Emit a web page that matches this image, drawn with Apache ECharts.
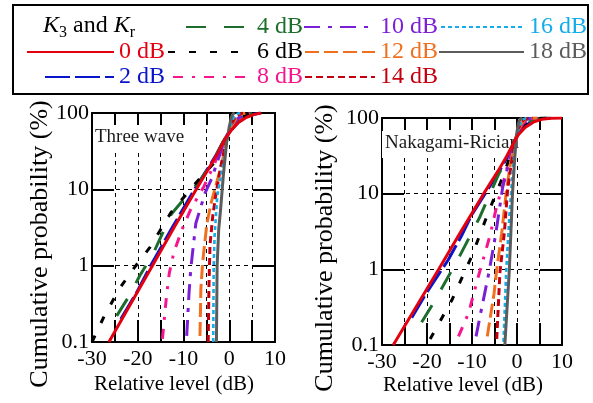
<!DOCTYPE html>
<html><head><meta charset="utf-8">
<script src="https://cdn.jsdelivr.net/npm/echarts@6/dist/echarts.min.js"></script>
<style>html,body{margin:0;padding:0;background:#fff}#c{width:593px;height:403px}</style>
</head><body><div id="c"></div>
<script>
// ---------- data (relative level dB, cumulative probability %) ----------
const levelNames = ['0 dB','2 dB','4 dB','6 dB','8 dB','10 dB','12 dB','14 dB','16 dB','18 dB'];
const xTickLabels = [-30,-20,-10,0,10];
const yTickLabels = [0.1,1,10,100];

// Three wave (left panel)
const tw0  = [[-26.3,0.1],[-21.5,0.32],[-16.8,1],[-12,3.2],[-7.2,10],[-4.2,20],[-2.5,30],[-1.0,45],[0.5,60],[2,75],[3.8,88],[5.5,96],[7,100]];
const tw2  = [[-23.7,0.2],[-20.2,0.45],[-17.2,1],[-12.4,3.2],[-7.6,10],[-4.4,20],[-2.6,30],[-1.0,46],[0.5,61],[2,76],[3.8,89],[5.6,97],[6.8,100]];
const tw4  = [[-24.6,0.22],[-22,0.39],[-19.5,0.75],[-16.6,1.45],[-12.6,4.8],[-8.2,9.8],[-6,14],[-3.5,24],[-1.0,46],[0.5,62],[2,78],[3.5,91],[5,100]];
const tw6  = [[-30,0.1],[-27.3,0.22],[-24,0.5],[-21,0.9],[-17.3,1.75],[-12.8,4.9],[-7.7,11.4],[-3.1,23],[-1.0,46],[0.5,63],[2,80],[3.5,93],[4.8,100]];
const tw8  = [[-14.6,0.11],[-13.7,0.41],[-13.1,0.8],[-12.1,1.5],[-10.3,3],[-8.4,5.5],[-5.5,11],[-3.5,20],[-1.0,45],[0.5,64],[2,82],[3.2,94],[4.5,100]];
const tw10 = [[-9.3,0.12],[-8.8,0.43],[-8.4,0.92],[-7.3,3.6],[-5.3,8.9],[-3.8,14],[-2.4,25],[-0.8,47],[0.5,66],[1.8,84],[3,95],[4,100]];
const tw12 = [[-6.4,0.12],[-6.2,0.5],[-5.8,1.13],[-4.9,3.5],[-4.0,6.5],[-2.8,12],[-1.6,22],[-0.6,45],[0.5,68],[1.5,85],[2.6,96],[3.5,100]];
const tw14 = [[-4.6,0.1],[-4.45,0.5],[-4.2,1.9],[-3.6,4.5],[-3.0,8],[-2.0,18],[-1.0,35],[-0.4,50],[0.5,72],[1.3,88],[2.2,97],[3,100]];
const tw16 = [[-3.5,0.1],[-3.4,1],[-3.2,2.5],[-2.6,8.4],[-1.8,15],[-1.1,25],[-0.4,46],[0.4,72],[1.1,90],[1.8,98],[2.4,100]];
const tw18 = [[-2.8,0.1],[-2.65,1],[-2.3,3],[-1.9,5.4],[-1.3,15],[-0.6,40],[0,66],[0.5,90],[0.9,98],[1.2,100]];

// Nakagami-Rician (right panel)
const nr0  = [[-27.5,0.1],[-22.4,0.32],[-17.4,1],[-12.4,3.2],[-7.4,10],[-4.2,20],[-2.2,32],[-0.9,45],[0.3,60],[1.8,75],[3.6,88],[5.5,96],[7.5,99.5],[10,100]];
const nr2  = [[-23.4,0.23],[-20.5,0.45],[-15.3,1.33],[-12.3,2.8],[-10.1,5.2],[-4.2,18.6],[-2.2,30],[-0.8,46],[0.3,62],[1.7,78],[3.4,91],[5.2,97.5],[7.5,100]];
const nr4  = [[-21.2,0.2],[-18.2,0.39],[-13,1.4],[-8.2,5],[-4.15,17.7],[-2.1,30],[-0.8,46],[0.3,63],[1.6,80],[3.2,92],[5,98.5],[7,100]];
const nr6  = [[-19.3,0.12],[-14.5,0.39],[-10.1,1.47],[-6.6,5.2],[-2.7,19.5],[-1.5,32],[-0.7,47],[0.3,65],[1.5,82],[2.8,94],[4.5,99],[6.5,100]];
const nr8  = [[-13,0.13],[-10.8,0.26],[-8.6,0.8],[-6,2.8],[-4.7,6.1],[-3.2,13],[-1.8,27],[-0.7,46],[0.3,66],[1.3,84],[2.5,95],[4,99.2],[6,100]];
const nr10 = [[-9.1,0.13],[-8.1,0.26],[-6.2,0.93],[-4.7,3],[-3.2,12],[-1.8,26],[-0.7,46],[0.2,66],[1.1,85],[2.2,96],[3.5,99.3],[5,100]];
const nr12 = [[-6.6,0.13],[-5.1,0.48],[-4.5,1],[-3.4,3],[-2.3,11.7],[-1.5,24],[-0.6,45],[0.2,66],[1,85],[1.9,96],[3,99.3],[4.5,100]];
const nr14 = [[-4.5,0.12],[-3.8,0.9],[-2.8,3.1],[-2.1,11],[-1.4,22],[-0.6,44],[0.1,66],[0.8,85],[1.6,96],[2.6,99.5],[3.5,100]];
const nr16 = [[-3.0,0.11],[-2.4,0.95],[-1.7,5],[-1.0,18.6],[-0.5,38],[0.1,62],[0.6,82],[1.2,95],[2,99.5],[2.8,100]];
const nr18 = [[-2.7,0.1],[-1.7,1],[-1.0,10],[-0.5,30],[-0.1,60],[0.3,85],[0.7,97],[1.2,100]];

const threeWave = [tw0,tw2,tw4,tw6,tw8,tw10,tw12,tw14,tw16,tw18];
const nakagami  = [nr0,nr2,nr4,nr6,nr8,nr10,nr12,nr14,nr16,nr18];

// ---------- styles ----------
const colors = ['#e3000f','#0a14c8','#1d6e2c','#000000','#f5168f','#7a1fd6','#f07020','#c4000e','#15acea','#5c5c5c'];
const dashes = ['solid',[25,5],[20,18],[7,14],[10,9,3,9],[16,8,4,8],[14,5],[7,4],[4,3],'solid'];
const widths = [3,3,3,3,3,3,3,3,2.6,3];
const drawOrder = [1,2,3,4,5,6,7,8,9,0];
const FF = '"Liberation Serif", "Times New Roman", serif';

const chart = echarts.init(document.getElementById('c'), null, {renderer:'canvas'});

function xAxes(gridIndex){
  return [
    {gridIndex, type:'value', position:'bottom', min:-30, max:10, interval:5,
     axisLine:{show:true, onZero:false, lineStyle:{color:'#000', width:2}},
     axisTick:{show:true, inside:true, length:22, lineStyle:{color:'#000', width:2}},
     axisLabel:{show:true, margin:6, fontSize:22, fontFamily:FF, color:'#000',
       formatter:v => xTickLabels.includes(v) ? String(v) : ''},
     splitLine:{show:true, lineStyle:{color:'#000', width:1, type:[4,4]}}},
    {gridIndex, type:'value', position:'top', min:-30, max:10, interval:5,
     axisLine:{show:true, onZero:false, lineStyle:{color:'#000', width:2}},
     axisTick:{show:true, inside:true, length:12, lineStyle:{color:'#000', width:2}},
     axisLabel:{show:false}, splitLine:{show:false}}
  ];
}
function yAxes(gridIndex){
  return [
    {gridIndex, type:'log', logBase:10, min:0.1, max:100, position:'left',
     axisLine:{show:true, onZero:false, lineStyle:{color:'#000', width:2}},
     axisTick:{show:true, inside:true, length:22, lineStyle:{color:'#000', width:2}},
     axisLabel:{show:true, margin:3, fontSize:22, fontFamily:FF, color:'#000',
       formatter:v => { const t = yTickLabels.find(t => Math.abs(Math.log10(t)-Math.log10(v))<1e-6); return t===undefined?'':String(t); }},
     splitLine:{show:true, lineStyle:{color:'#000', width:1, type:[4,4]}},
     minorTick:{show:false}, minorSplitLine:{show:false}},
    {gridIndex, type:'log', logBase:10, min:0.1, max:100, position:'right',
     axisLine:{show:true, onZero:false, lineStyle:{color:'#000', width:2}},
     axisTick:{show:true, inside:true, length:22, lineStyle:{color:'#000', width:2}},
     axisLabel:{show:false}, splitLine:{show:false}}
  ];
}

const series = [];
[threeWave, nakagami].forEach((set, p) => {
  drawOrder.forEach(i => {
    series.push({
      type:'line', name:levelNames[i], xAxisIndex:p*2, yAxisIndex:p*2,
      data:set[i], symbol:'none', showSymbol:false, smooth:false,
      lineStyle:{color:colors[i], width:widths[i], type:dashes[i]},
      itemStyle:{color:colors[i]}, z:2, silent:true
    });
  });
});

// legend placement: [name index, left, itemWidth, row centre y]
const legendPlaces = [
  [0, 26, 87, 52], [1, 44, 69, 77], [2, 185, 66, 27], [3, 167, 84, 52], [4, 172, 79, 77],
  [5, 303, 71, 27], [6, 304, 70, 52], [7, 304, 70, 77], [8, 440, 83, 27], [9, 438, 85, 52]
];
const legends = legendPlaces.map(([i, left, w, cy]) => ({
  show:true, selectedMode:false, left, top:cy-13, padding:0, itemGap:0,
  itemWidth:w, itemHeight:14,
  itemStyle:{opacity:0},
  data:[{name:levelNames[i], textStyle:{color:colors[i]}}],
  textStyle:{fontSize:24, fontFamily:FF, lineHeight:26}
}));

const titleStyle = {fontSize:19, fontFamily:FF, fontWeight:'normal', color:'#1a1a1a', lineHeight:19};

const option = {
  animation:false,
  textStyle:{fontFamily:FF},
  grid:[
    {left:92, top:113, width:183, height:229, containLabel:false},
    {left:382, top:118, width:180, height:227, containLabel:false}
  ],
  xAxis:[...xAxes(0), ...xAxes(1)],
  yAxis:[...yAxes(0), ...yAxes(1)],
  title:[
    {text:'Three wave', left:93, top:125, padding:[3,5,4,2], backgroundColor:'#fff', z:1, textStyle:titleStyle},
    {text:'Nakagami-Rician', left:382, top:131, padding:[3,3,5,3], backgroundColor:'#fff', z:1, textStyle:titleStyle}
  ],
  legend:legends,
  graphic:[
    {type:'rect', shape:{x:13, y:5, width:575, height:89}, style:{fill:'none', stroke:'#000', lineWidth:2}, z:10},
    {type:'text', x:43, y:26, z:10, style:{
      text:'{k|K}{s|3}{n| and }{k|K}{s|r}', verticalAlign:'middle', fill:'#000',
      rich:{
        k:{fontFamily:FF, fontSize:24, fontStyle:'italic', lineHeight:30, verticalAlign:'middle'},
        n:{fontFamily:FF, fontSize:24, lineHeight:30, verticalAlign:'middle'},
        s:{fontFamily:FF, fontSize:16, lineHeight:16, verticalAlign:'bottom'}
      }}},
    {type:'text', x:40, y:244, rotation:Math.PI/2, z:10, style:{text:'Cumulative probability (%)', fontFamily:FF, fontSize:26, fill:'#000', align:'center', verticalAlign:'middle'}},
    {type:'text', x:325, y:248, rotation:Math.PI/2, z:10, style:{text:'Cumulative probability (%)', fontFamily:FF, fontSize:26, fill:'#000', align:'center', verticalAlign:'middle'}},
    {type:'text', x:174, y:384, z:10, style:{text:'Relative level (dB)', fontFamily:FF, fontSize:21, fill:'#000', align:'center', verticalAlign:'middle'}},
    {type:'text', x:463, y:385, z:10, style:{text:'Relative level (dB)', fontFamily:FF, fontSize:21, fill:'#000', align:'center', verticalAlign:'middle'}}
  ],
  series
};
chart.setOption(option);
</script></body></html>
